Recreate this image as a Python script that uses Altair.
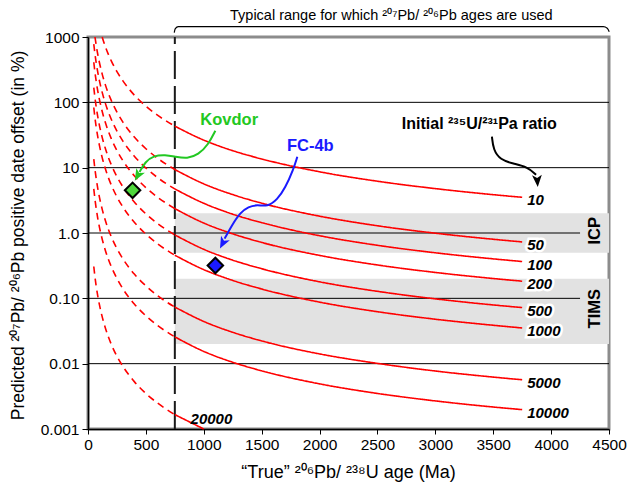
import altair as alt
import pandas as pd

FONT = "Liberation Sans"

# ---------------- data ----------------
AGES = [50, 60, 70, 85, 100, 125, 150, 200, 250, 300, 400, 500, 600, 750,
        1000, 1250, 1500, 2000, 2500, 3000, 3500, 3750]

RATIO_LABELS = ["10", "50", "100", "200", "500", "1000", "5000", "10000", "20000"]

OFFSET_10 = [None, None, None, None, None, 967, 711, 435, 295, 215, 129, 87.5, 63.6, 43.2,
             26.4, 18.2, 13.6, 8.65, 6.2, 4.78, 3.86, 3.52]
OFFSET_50 = [None, None, 765, 535, 396, 261, 185, 108, 70.9, 50.3, 29.4, 19.5, 14, 9.36,
             5.65, 3.87, 2.86, 1.81, 1.29, 0.993, 0.802, 0.73]
OFFSET_100 = [780, 553, 413, 286, 209, 137, 96.4, 55.6, 36.3, 25.7, 15, 9.88, 7.07, 4.72,
              2.85, 1.94, 1.44, 0.909, 0.648, 0.498, 0.402, 0.366]
OFFSET_200 = [411, 289, 215, 147, 108, 69.8, 49, 28.1, 18.3, 12.9, 7.51, 4.95, 3.54, 2.36,
              1.42, 0.971, 0.717, 0.454, 0.324, 0.249, 0.201, 0.183]
OFFSET_500 = [168, 118, 87.1, 59.5, 43.3, 28, 19.6, 11.2, 7.29, 5.14, 2.98, 1.96, 1.4, 0.935,
              0.563, 0.384, 0.284, 0.179, 0.128, 0.0982, 0.0792, 0.0722]
OFFSET_1000 = [83.3, 58.1, 42.9, 29.3, 21.3, 13.7, 9.61, 5.49, 3.57, 2.52, 1.46, 0.96, 0.685, 0.457,
               0.275, 0.188, 0.139, 0.0875, 0.0624, 0.0479, 0.0387, 0.0352]
OFFSET_5000 = [13.5, 9.44, 6.96, 4.74, 3.44, 2.22, 1.55, 0.887, 0.576, 0.406, 0.235, 0.155, 0.11, 0.0736,
               0.0443, 0.0302, 0.0223, 0.0141, 0.0101, 0.00772, 0.00623, 0.00567]
OFFSET_10000 = [4.73, 3.29, 2.43, 1.65, 1.2, 0.774, 0.541, 0.309, 0.201, 0.141, 0.0819, 0.0539, 0.0385, 0.0257,
                0.0154, 0.0105, 0.00777, 0.00491, 0.0035, 0.00269, 0.00217, 0.00198]
OFFSET_20000 = [0.307, 0.214, 0.157, 0.107, 0.0778, 0.0502, 0.0351, 0.02, 0.013, 0.00917, 0.00531, 0.00349,
                0.0025, 0.00166, 0.001, None, None, None, None, None, None, None]

# where the steepest curves leave the top of the plot (age, offset)
TOP_EDGE_AGE = {"10": 122.5, "50": 60.4}
TOP_EDGE_OFFSET = {"10": 1000.0, "50": 1000.0}

SERIES = [OFFSET_10, OFFSET_50, OFFSET_100, OFFSET_200, OFFSET_500, OFFSET_1000,
          OFFSET_5000, OFFSET_10000, OFFSET_20000]

BAND_NAMES = ["ICP", "TIMS"]
BAND_LOW = [0.5, 0.02]
BAND_HIGH = [2.0, 0.2]

SAMPLE_NAMES = ["Kovdor", "FC-4b"]
SAMPLE_AGES = [385, 1100]
SAMPLE_OFFSETS = [4.5, 0.318]
SAMPLE_COLORS = ["#4fd83c", "#1a1aff"]

GRID_FULL = [100, 10, 0.01]
GRID_SHORT = [1.0, 0.1]

# annotation arrows (age, offset)
KOVDOR_ARROW_AGE = [1100, 1039, 953, 858, 754, 668, 564, 495, 445]
KOVDOR_ARROW_OFF = [36.8, 22.5, 15.8, 13.7, 14.7, 15.8, 15.2, 12.3, 8.6]
FC4B_ARROW_AGE = [1808, 1773, 1704, 1635, 1549, 1462, 1385, 1315, 1246, 1180]
FC4B_ARROW_OFF = [14.7, 9.3, 4.93, 3.23, 2.53, 2.71, 2.53, 2.05, 1.34, 0.82]
RATIO_ARROW_AGE = [3489, 3501, 3561, 3673, 3794, 3870]
RATIO_ARROW_OFF = [29.8, 18.8, 13.2, 11.5, 10.3, 7.8]

BRACKET_AGE = [745, 754, 780, 4451, 4485, 4502]
BRACKET_OFF = [1164, 1340, 1438, 1438, 1364, 1205]

# ---------------- tables ----------------
rows = []
for lab, vals in zip(RATIO_LABELS, SERIES):
    pts = [(a, v) for a, v in zip(AGES, vals) if v is not None]
    if lab in TOP_EDGE_AGE:
        pts = [(TOP_EDGE_AGE[lab], TOP_EDGE_OFFSET[lab])] + pts
    for a, v in pts:
        if a <= 750:
            rows.append({"curve": lab, "seg": "dashed", "age": a, "off": v})
        if a >= 750:
            rows.append({"curve": lab, "seg": "solid", "age": a, "off": v})
curves_df = pd.DataFrame(rows)

label_rows = []
for lab, vals in zip(RATIO_LABELS[:-1], SERIES[:-1]):
    label_rows.append({"curve": lab, "age": AGES[-1], "off": vals[-1]})
labels_df = pd.DataFrame(label_rows)

band_df = pd.DataFrame({"name": BAND_NAMES, "age": [750, 750], "age2": [4500, 4500],
                        "off": BAND_LOW, "off2": BAND_HIGH})
grid_full_df = pd.DataFrame({"off": GRID_FULL, "age": [0] * 3, "age2": [4500] * 3})
grid_short_df = pd.DataFrame({"off": GRID_SHORT, "age": [0] * 2, "age2": [4250] * 2})
vline_df = pd.DataFrame({"age": [750], "off": [0.001], "off2": [1000]})
samples_df = pd.DataFrame({"name": SAMPLE_NAMES, "age": SAMPLE_AGES, "off": SAMPLE_OFFSETS,
                           "col": SAMPLE_COLORS})


def path_df(ages, offs, name, col):
    return pd.DataFrame({"age": ages, "off": offs, "i": list(range(len(ages))),
                         "name": name, "col": col})


arrows_df = pd.concat([
    path_df(KOVDOR_ARROW_AGE, KOVDOR_ARROW_OFF, "k", "#22c822"),
    path_df(FC4B_ARROW_AGE, FC4B_ARROW_OFF, "f", "#1a1aff"),
    path_df(RATIO_ARROW_AGE, RATIO_ARROW_OFF, "r", "#000000"),
])
heads_df = pd.DataFrame({"age": [430, 1164, 3881], "off": [7.6, 0.70, 6.3],
                         "ang": [209, 207, 176], "col": ["#22c822", "#1a1aff", "#000000"]})
bracket_df = path_df(BRACKET_AGE, BRACKET_OFF, "b", "#000000")

ARROWHEAD = "M0,-1L0.8,0.95L0,0.45L-0.8,0.95Z"

# ---------------- scales / axes ----------------
xs = alt.Scale(domain=[0, 4500], nice=False, zero=False)
ys = alt.Scale(type="log", domain=[0.001, 1000], nice=False)

x_axis = alt.Axis(values=[0, 500, 1000, 1500, 2000, 2500, 3000, 3500, 4000, 4500], format="d",
                  grid=False, tickSize=5, tickColor="black", labelPadding=3, labelFontSize=15.5,
                  labelFlush=False, labelOverlap=False,
                  domainColor="black", domainWidth=1.5,
                  title="\u201cTrue\u201d \u00b2\u2070\u2076Pb/ \u00b2\u00b3\u2078U age (Ma)",
                  titleFontSize=18, titleFontWeight="normal", titleX=260, titleY=43,
                  titleAlign="center", titleBaseline="middle")
y_axis = alt.Axis(values=[0.001, 0.01, 0.1, 1, 10, 100, 1000],
                  labelExpr="datum.value < 0.005 ? '0.001' : datum.value < 0.05 ? '0.01' : datum.value < 0.5 ? '0.10' : datum.value < 5 ? '1.0' : format(datum.value, 'd')",
                  grid=False, tickSize=6, tickColor="black", labelPadding=3, labelFontSize=15.5,
                  labelFlush=False, labelOverlap=False,
                  domainColor="black", domainWidth=1.5,
                  title="Predicted \u00b2\u2070\u2077Pb/ \u00b2\u2070\u2076Pb positive date offset (in %)",
                  titleFontSize=17.5, titleFontWeight="normal", titleX=-70, titleY=198,
                  titleAngle=270, titleAlign="center", titleBaseline="middle")


def X(f="age"):
    return alt.X(f"{f}:Q", scale=xs, axis=x_axis)


def Y(f="off"):
    return alt.Y(f"{f}:Q", scale=ys, axis=y_axis)


bands = alt.Chart(band_df).mark_rect(color="#e2e2e2").encode(
    x=X(), x2="age2:Q", y=Y(), y2="off2:Q")

grid_full = alt.Chart(grid_full_df).mark_rule(color="black", strokeWidth=1).encode(
    x=X(), x2="age2:Q", y=Y())
grid_short = alt.Chart(grid_short_df).mark_rule(color="black", strokeWidth=1).encode(
    x=X(), x2="age2:Q", y=Y())

vline = alt.Chart(vline_df).mark_rule(color="#1a1a1a", strokeWidth=2, strokeDash=[28, 7]).encode(
    x=X(), y=Y(), y2="off2:Q")

lines = alt.Chart(curves_df).mark_line(color="#ff0000", strokeWidth=1.6, interpolate="monotone").encode(
    x=X(), y=Y(), detail="curve:N",
    strokeDash=alt.StrokeDash("seg:N", scale=alt.Scale(domain=["dashed", "solid"], range=[[7, 5], [1, 0]]),
                              legend=None))

label_style = dict(font=FONT, fontSize=15, fontWeight="bold", fontStyle="italic", align="left",
                   baseline="middle", dx=5, dy=3)
label_halo = alt.Chart(labels_df).mark_text(color="white", stroke="white", strokeWidth=5, **label_style).encode(
    x=X(), y=Y(), text="curve:N")
label_text = alt.Chart(labels_df).mark_text(color="black", **label_style).encode(
    x=X(), y=Y(), text="curve:N")
label_20000 = alt.Chart(pd.DataFrame({"age": [1066], "off": [0.00144], "t": ["20000"]})).mark_text(
    font=FONT, fontSize=15, fontWeight="bold", fontStyle="italic", align="center", baseline="middle",
    color="black").encode(x=X(), y=Y(), text="t:N")

arrows = alt.Chart(arrows_df).mark_line(strokeWidth=2, interpolate="basis").encode(
    x=X(), y=Y(), order="i:Q", detail="name:N", color=alt.Color("col:N", scale=None))
heads = alt.Chart(heads_df).mark_point(shape=ARROWHEAD, filled=True, size=150, opacity=1).encode(
    x=X(), y=Y(), angle=alt.Angle("ang:Q", scale=None), color=alt.Color("col:N", scale=None))

diamonds = alt.Chart(samples_df).mark_point(shape="diamond", filled=True, size=240, stroke="black",
                                            strokeWidth=2, opacity=1).encode(
    x=X(), y=Y(), fill=alt.Fill("col:N", scale=None))

def text_layer(age, off, txt, color="black", size=16, weight="bold", angle=0):
    return alt.Chart(pd.DataFrame({"age": [age], "off": [off], "t": [txt]})).mark_text(
        font=FONT, fontSize=size, fontWeight=weight, color=color, align="center",
        baseline="middle", angle=angle).encode(x=X(), y=Y(), text="t:N")

kov_txt = text_layer(1220, 54.2, "Kovdor", "#22c822", 16.5)
fc_txt = text_layer(1920, 21.7, "FC-4b", "#1a1aff", 16.5)
ratio_txt = text_layer(3380, 47.1, "Initial \u00b2\u00b3\u2075U/\u00b2\u00b3\u00b9Pa ratio", "black", 16)
icp_txt = text_layer(4382, 1.084, "ICP", "black", 16.5, angle=270)
tims_txt = text_layer(4382, 0.0694, "TIMS", "black", 16.5, angle=270)
top_txt = text_layer(2620, 2118, "Typical range for which \u00b2\u2070\u2077Pb/ \u00b2\u2070\u2076Pb ages are used",
                     "black", 14.5, weight="normal")

bracket = alt.Chart(bracket_df).mark_line(color="black", strokeWidth=1.2, interpolate="monotone").encode(
    x=X(), y=Y(), order="i:Q")

chart = alt.layer(
    bands, grid_full, grid_short, vline, lines, label_halo, label_text, label_20000,
    arrows, heads, diamonds, kov_txt, fc_txt, ratio_txt, icp_txt, tims_txt, top_txt, bracket
).properties(
    width=521, height=392,
    padding={"left": 88, "top": 37, "right": 18, "bottom": 54},
    autosize=alt.AutoSizeParams(type="none"),
    background="white",
).configure_view(
    stroke="#8c8c8c", strokeWidth=3
).configure_axis(
    labelFont=FONT, titleFont=FONT, labelColor="black", titleColor="black"
).configure_text(font=FONT)

chart.save("out.html", embed_options={"renderer": "svg", "actions": False})
